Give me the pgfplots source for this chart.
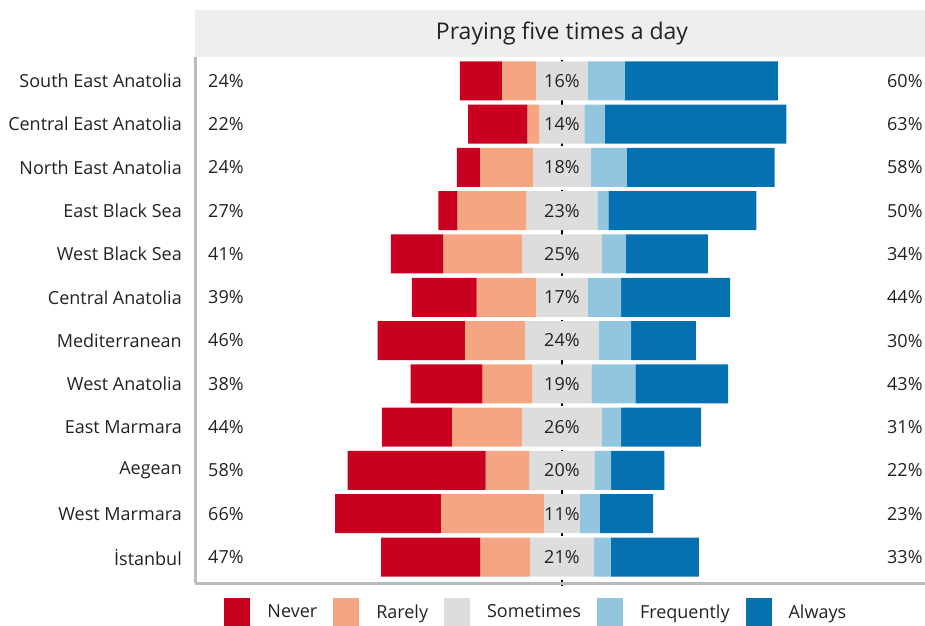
\documentclass[border=0pt]{standalone}
\usepackage{fontspec}
\setmainfont{Open Sans}
\usepackage{pgfplots}
\pgfplotsset{compat=1.18}
\usepackage{pgfplotstable}

\definecolor{cNever}{HTML}{CA0020}
\definecolor{cRarely}{HTML}{F4A582}
\definecolor{cSometimes}{HTML}{DDDDDD}
\definecolor{cFreq}{HTML}{92C5DE}
\definecolor{cAlways}{HTML}{0571B0}
\definecolor{headgray}{HTML}{EEEEEE}
\definecolor{axgray}{HTML}{BBBBBB}
\definecolor{txt}{HTML}{222222}

% shares per region, y=12 is the top row
\pgfplotstableread{
y  N    R    S    F    A
12 13.2 10.7 16.4 11.6 48.1
11 18.6 3.8  14.2 6.3  57.2
10 7.2  16.7 18.2 11.3 46.5
9  6.0  21.7 22.3 3.5  46.5
8  16.4 24.8 25.2 7.5  25.8
7  20.4 18.6 16.4 10.4 34.3
6  27.4 18.9 23.3 10.1 20.4
5  22.6 15.7 18.6 13.8 29.2
4  22.0 22.0 25.2 6.0  25.2
3  43.4 13.8 20.4 5.3  16.7
2  33.3 32.4 11.3 6.3  16.7
1  31.1 15.7 20.1 5.3  27.7
}\survey

% printed labels: left (never+rarely), middle (sometimes), right (frequently+always)
\pgfplotstableread{
y  L  M  Rt
12 24 16 60
11 22 14 63
10 24 18 58
9  27 23 50
8  41 25 34
7  39 17 44
6  46 24 30
5  38 19 43
4  44 26 31
3  58 20 22
2  66 11 23
1  47 21 33
}\labels

\pgfplotsset{
  panel/.style={
    at={(195pt,42pt)}, anchor=south west,
    width=730pt, height=526pt, scale only axis,
    xmin=-115.4, xmax=114.2, ymin=0.4, ymax=12.55,
  },
}

\begin{document}
\begin{tikzpicture}
\path[use as bounding box] (0,0) rectangle (925pt,625pt);
\fill[headgray] (195pt,568pt) rectangle (925pt,615pt);
\node[font=\fontsize{23}{27}\selectfont, text=txt] at (562pt,592pt) {Praying five times a day};

% frame and dashed centre line, drawn under the bars
\begin{axis}[panel, hide axis, clip=false]
\draw[black, line width=2.5pt, dash pattern=on 6pt off 4pt] (axis cs:0,0.33) -- (axis cs:0,12.55);
\draw[axgray, line width=3pt] (rel axis cs:0,0) -- (rel axis cs:0,1);
\draw[axgray, line width=3pt] (rel axis cs:0,0) -- (rel axis cs:1,0);
\end{axis}

\begin{axis}[
  panel,
  xbar stacked, stack negative=on previous, bar width=39pt,
  axis line style={draw=none},
  xtick=\empty,
  ytick={1,...,12},
  yticklabels={İstanbul, West Marmara, Aegean, East Marmara, West Anatolia, Mediterranean, Central Anatolia, West Black Sea, East Black Sea, North East Anatolia, Central East Anatolia, South East Anatolia},
  major tick length=0pt,
  yticklabel style={font=\fontsize{18}{21}\selectfont, text=txt, inner sep=0pt, xshift=-13pt},
  legend image code/.code={\fill[#1] (0pt,-14pt) rectangle (26pt,14pt);},
  legend columns=5,
  legend style={draw=none, fill=none, at={(axis description cs:0.036,-0.055)}, anchor=west,
    font=\fontsize{18}{21}\selectfont, text=txt, nodes={inner sep=0pt},
    /tikz/every odd column/.append style={column sep=17pt},
    /tikz/every even column/.append style={column sep=16pt}},
  legend cell align=left,
]
\addplot[draw=none, fill=none, forget plot] table[x expr={-(\thisrow{N}+\thisrow{R}+0.5*\thisrow{S})}, y=y]{\survey};
\addplot[fill=cNever, draw=none] table[x=N, y=y]{\survey};
\addplot[fill=cRarely, draw=none] table[x=R, y=y]{\survey};
\addplot[fill=cSometimes, draw=none] table[x=S, y=y]{\survey};
\addplot[fill=cFreq, draw=none] table[x=F, y=y]{\survey};
\addplot[fill=cAlways, draw=none] table[x=A, y=y]{\survey};
\legend{Never, Rarely, Sometimes, Frequently, Always}
\end{axis}

\begin{axis}[panel, hide axis, clip=false,
  nodes near coords={\pgfplotspointmeta\%},
  point meta=explicit symbolic,
  every node near coord/.append style={font=\fontsize{18}{21}\selectfont, text=txt, inner sep=0pt},
]
\addplot[draw=none, every node near coord/.append style={anchor=west}] table[x expr=-111.3, y=y, meta=L]{\labels};
\addplot[draw=none, every node near coord/.append style={anchor=center}] table[x expr=0, y=y, meta=M]{\labels};
\addplot[draw=none, every node near coord/.append style={anchor=east}] table[x expr=113.5, y=y, meta=Rt]{\labels};
\end{axis}
\end{tikzpicture}
\end{document}
